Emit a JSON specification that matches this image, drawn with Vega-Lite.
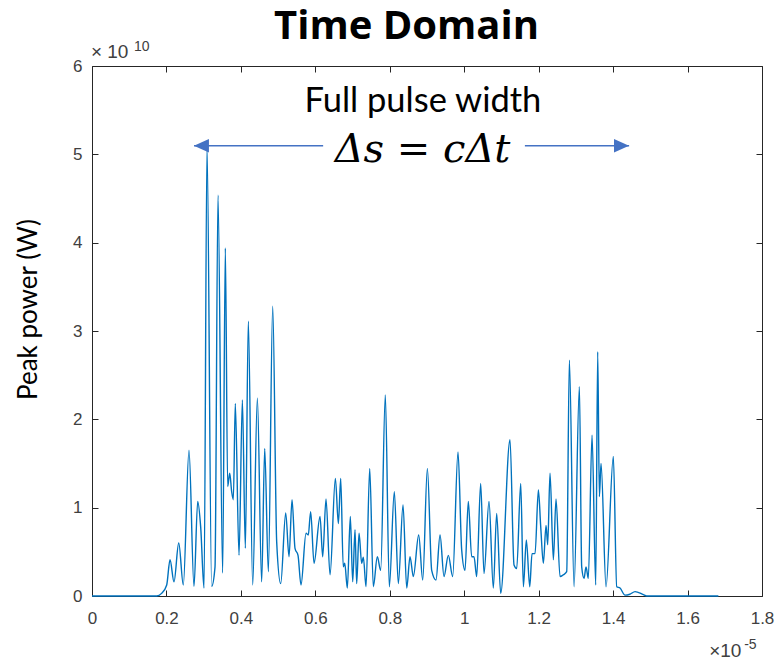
{
  "$schema": "https://vega.github.io/schema/vega-lite/v6.json",
  "width": 670,
  "height": 530,
  "autosize": {"type": "none"},
  "padding": {"left": 92, "top": 66, "right": 17, "bottom": 65},
  "background": "white",
  "config": {
    "view": {"stroke": null},
    "axis": {
      "grid": false,
      "domainColor": "#262626",
      "domainWidth": 1,
      "tickColor": "#262626",
      "tickWidth": 1,
      "labelFont": "Liberation Sans",
      "labelFontSize": 17,
      "labelColor": "#404040",
      "labelFlush": false
    }
  },
  "datasets": {
    "sig": [
      {"t": 0, "p": 0}, {"t": 0.174, "p": 0}, {"t": 0.187, "p": 0.03}, {"t": 0.2007, "p": 0.125},
      {"t": 0.2096, "p": 0.41}, {"t": 0.2203, "p": 0.16}, {"t": 0.233, "p": 0.6}, {"t": 0.2453, "p": 0.125},
      {"t": 0.2606, "p": 1.65}, {"t": 0.274, "p": 0.11}, {"t": 0.284, "p": 1.07}, {"t": 0.292, "p": 0.78},
      {"t": 0.301, "p": 0.09}, {"t": 0.309, "p": 5.09}, {"t": 0.3215, "p": 0.11}, {"t": 0.3305, "p": 0.33},
      {"t": 0.3385, "p": 4.54}, {"t": 0.351, "p": 0.26}, {"t": 0.3582, "p": 3.94}, {"t": 0.3645, "p": 1.24},
      {"t": 0.37, "p": 1.39}, {"t": 0.3753, "p": 1.18}, {"t": 0.3797, "p": 1.09}, {"t": 0.385, "p": 2.18},
      {"t": 0.395, "p": 0.46}, {"t": 0.404, "p": 2.22}, {"t": 0.412, "p": 0.54}, {"t": 0.42, "p": 3.11},
      {"t": 0.4317, "p": 0.125}, {"t": 0.4443, "p": 2.24}, {"t": 0.4558, "p": 0.16}, {"t": 0.464, "p": 1.67},
      {"t": 0.4738, "p": 0.275}, {"t": 0.4855, "p": 3.28}, {"t": 0.4962, "p": 0.61}, {"t": 0.507, "p": 0.14},
      {"t": 0.5204, "p": 0.94}, {"t": 0.5293, "p": 0.445}, {"t": 0.5374, "p": 1.09}, {"t": 0.5454, "p": 0.54},
      {"t": 0.5535, "p": 0.46}, {"t": 0.5615, "p": 0.125}, {"t": 0.575, "p": 0.71}, {"t": 0.581, "p": 0.69},
      {"t": 0.5875, "p": 0.955}, {"t": 0.5965, "p": 0.37}, {"t": 0.6126, "p": 0.9}, {"t": 0.6198, "p": 0.445},
      {"t": 0.6287, "p": 1.1}, {"t": 0.6395, "p": 0.24}, {"t": 0.6538, "p": 1.33}, {"t": 0.6619, "p": 0.82},
      {"t": 0.6682, "p": 1.33}, {"t": 0.675, "p": 0.33}, {"t": 0.679, "p": 0.37}, {"t": 0.686, "p": 0.09},
      {"t": 0.694, "p": 0.9}, {"t": 0.7004, "p": 0.16}, {"t": 0.7066, "p": 0.75}, {"t": 0.7111, "p": 0.14},
      {"t": 0.7174, "p": 0.71}, {"t": 0.7245, "p": 0.37}, {"t": 0.729, "p": 0.44}, {"t": 0.7362, "p": 0.105},
      {"t": 0.7461, "p": 1.445}, {"t": 0.7558, "p": 0.105}, {"t": 0.7665, "p": 0.445}, {"t": 0.7756, "p": 0.29},
      {"t": 0.788, "p": 2.275}, {"t": 0.7988, "p": 0.105}, {"t": 0.8122, "p": 1.18}, {"t": 0.823, "p": 0.14},
      {"t": 0.8356, "p": 1.03}, {"t": 0.8455, "p": 0.09}, {"t": 0.8544, "p": 0.445}, {"t": 0.8633, "p": 0.22},
      {"t": 0.8777, "p": 0.69}, {"t": 0.8885, "p": 0.18}, {"t": 0.901, "p": 1.445}, {"t": 0.9126, "p": 0.29},
      {"t": 0.9242, "p": 0.18}, {"t": 0.935, "p": 0.69}, {"t": 0.9457, "p": 0.22}, {"t": 0.9573, "p": 0.46},
      {"t": 0.969, "p": 0.22}, {"t": 0.9833, "p": 1.63}, {"t": 0.9932, "p": 0.52}, {"t": 1.0021, "p": 0.29},
      {"t": 1.011, "p": 1.07}, {"t": 1.02, "p": 0.445}, {"t": 1.0263, "p": 0.445}, {"t": 1.0335, "p": 0.22},
      {"t": 1.0442, "p": 1.275}, {"t": 1.0532, "p": 0.255}, {"t": 1.0666, "p": 1.07}, {"t": 1.0782, "p": 0.09},
      {"t": 1.0872, "p": 0.935}, {"t": 1.098, "p": 0.03}, {"t": 1.123, "p": 1.77}, {"t": 1.1338, "p": 0.35},
      {"t": 1.141, "p": 0.31}, {"t": 1.1518, "p": 1.275}, {"t": 1.1589, "p": 0.105}, {"t": 1.1669, "p": 0.635},
      {"t": 1.176, "p": 0.105}, {"t": 1.1822, "p": 0.48}, {"t": 1.1903, "p": 0.48}, {"t": 1.1992, "p": 1.2},
      {"t": 1.2055, "p": 0.785}, {"t": 1.2126, "p": 0.37}, {"t": 1.2198, "p": 0.8}, {"t": 1.2243, "p": 0.58},
      {"t": 1.2305, "p": 1.39}, {"t": 1.2395, "p": 0.41}, {"t": 1.2466, "p": 1.1}, {"t": 1.2574, "p": 0.22},
      {"t": 1.2663, "p": 0.24}, {"t": 1.2753, "p": 0.275}, {"t": 1.2825, "p": 2.67}, {"t": 1.2951, "p": 0.105},
      {"t": 1.3094, "p": 2.37}, {"t": 1.3156, "p": 0.33}, {"t": 1.3219, "p": 0.2}, {"t": 1.3272, "p": 0.33},
      {"t": 1.3334, "p": 0.2}, {"t": 1.3434, "p": 1.82}, {"t": 1.3533, "p": 0.125}, {"t": 1.3586, "p": 2.765},
      {"t": 1.3631, "p": 1.125}, {"t": 1.3676, "p": 1.5}, {"t": 1.381, "p": 0.105}, {"t": 1.4006, "p": 1.58},
      {"t": 1.4097, "p": 0.105}, {"t": 1.4186, "p": 0.09}, {"t": 1.432, "p": 0.01}, {"t": 1.445, "p": 0.02},
      {"t": 1.4589, "p": 0.05}, {"t": 1.4812, "p": 0.015}, {"t": 1.49, "p": 0}, {"t": 1.6828, "p": 0}
    ]
  },
  "layer": [
    {
      "data": {"name": "sig"},
      "mark": {"type": "line", "color": "#0072BD", "strokeWidth": 1.4, "interpolate": "monotone"},
      "encoding": {
        "x": {
          "field": "t", "type": "quantitative",
          "scale": {"domain": [0, 1.8], "nice": false, "zero": false},
          "axis": {"orient": "bottom", "title": null, "values": [0, 0.2, 0.4, 0.6, 0.8, 1, 1.2, 1.4, 1.6, 1.8], "format": "~g", "tickSize": -6, "labelPadding": 20}
        },
        "y": {
          "field": "p", "type": "quantitative",
          "scale": {"domain": [0, 6], "nice": false, "zero": false},
          "axis": {
            "orient": "left", "values": [0, 1, 2, 3, 4, 5, 6], "format": "~g", "tickSize": -6, "labelPadding": 16,
            "title": "Peak power (W)", "titleFont": "Lato", "titleFontSize": 26, "titleFontWeight": "normal",
            "titleColor": "#000000", "titleAngle": -90, "titleBaseline": "alphabetic", "titleAlign": "center",
            "titleX": -56, "titleY": 243
          }
        }
      }
    },
    {
      "data": {"values": [{"t": 0, "p": 0}]},
      "mark": {"type": "point", "opacity": 0},
      "encoding": {
        "x": {"field": "t", "type": "quantitative", "axis": {"orient": "top", "labels": false, "title": null, "values": [0, 0.2, 0.4, 0.6, 0.8, 1, 1.2, 1.4, 1.6, 1.8], "tickSize": -6}},
        "y": {"field": "p", "type": "quantitative", "axis": {"orient": "right", "labels": false, "title": null, "values": [0, 1, 2, 3, 4, 5, 6], "tickSize": -6}}
      }
    },
    {
      "data": {"values": [{"t": 0.274, "t2": 0.621, "p": 5.098}, {"t": 1.163, "t2": 1.443, "p": 5.098}]},
      "mark": {"type": "rule", "color": "#4472C4", "strokeWidth": 1.5},
      "encoding": {
        "x": {"field": "t", "type": "quantitative", "axis": null},
        "x2": {"field": "t2"},
        "y": {"field": "p", "type": "quantitative", "axis": null}
      }
    },
    {
      "data": {"values": [{"t": 0.294, "p": 5.098}]},
      "mark": {"type": "point", "shape": "M-1,0L1,-0.9L1,0.9Z", "size": 225, "filled": true, "color": "#4472C4", "opacity": 1},
      "encoding": {
        "x": {"field": "t", "type": "quantitative", "axis": null},
        "y": {"field": "p", "type": "quantitative", "axis": null}
      }
    },
    {
      "data": {"values": [{"t": 1.4226, "p": 5.098}]},
      "mark": {"type": "point", "shape": "M1,0L-1,-0.9L-1,0.9Z", "size": 225, "filled": true, "color": "#4472C4", "opacity": 1},
      "encoding": {
        "x": {"field": "t", "type": "quantitative", "axis": null},
        "y": {"field": "p", "type": "quantitative", "axis": null}
      }
    },
    {
      "data": {"values": [{"t": 0.845, "p": 6.302, "txt": "Time Domain"}]},
      "mark": {"type": "text", "font": "Open Sans", "fontSize": 40, "fontWeight": "bold", "align": "center", "baseline": "alphabetic", "color": "#000000"},
      "encoding": {
        "x": {"field": "t", "type": "quantitative", "axis": null},
        "y": {"field": "p", "type": "quantitative", "axis": null},
        "text": {"field": "txt"}
      }
    },
    {
      "data": {"values": [{"t": 0.889, "p": 5.48, "txt": "Full pulse width"}]},
      "mark": {"type": "text", "font": "Lato", "fontSize": 34.5, "align": "center", "baseline": "alphabetic", "color": "#000000"},
      "encoding": {
        "x": {"field": "t", "type": "quantitative", "axis": null},
        "y": {"field": "p", "type": "quantitative", "axis": null},
        "text": {"field": "txt"}
      }
    },
    {
      "data": {"values": [{"t": 0.888, "p": 4.91, "txt": "Δs = cΔt"}]},
      "mark": {"type": "text", "font": "DejaVu Serif", "fontStyle": "italic", "fontSize": 40, "align": "center", "baseline": "alphabetic", "color": "#000000"},
      "encoding": {
        "x": {"field": "t", "type": "quantitative", "axis": null},
        "y": {"field": "p", "type": "quantitative", "axis": null},
        "text": {"field": "txt"}
      }
    },
    {
      "data": {"values": [{"t": -0.003, "p": 6.087, "txt": "× 10"}, {"t": 1.658, "p": -0.687, "txt": "×10"}]},
      "mark": {"type": "text", "font": "Liberation Sans", "fontSize": 19, "align": "left", "baseline": "alphabetic", "color": "#404040"},
      "encoding": {
        "x": {"field": "t", "type": "quantitative", "axis": null},
        "y": {"field": "p", "type": "quantitative", "axis": null},
        "text": {"field": "txt"}
      }
    },
    {
      "data": {"values": [{"t": 0.113, "p": 6.171, "txt": "10"}, {"t": 1.752, "p": -0.6, "txt": "-5"}]},
      "mark": {"type": "text", "font": "Liberation Sans", "fontSize": 14, "align": "left", "baseline": "alphabetic", "color": "#404040"},
      "encoding": {
        "x": {"field": "t", "type": "quantitative", "axis": null},
        "y": {"field": "p", "type": "quantitative", "axis": null},
        "text": {"field": "txt"}
      }
    }
  ],
  "resolve": {"axis": {"x": "independent", "y": "independent"}}
}
